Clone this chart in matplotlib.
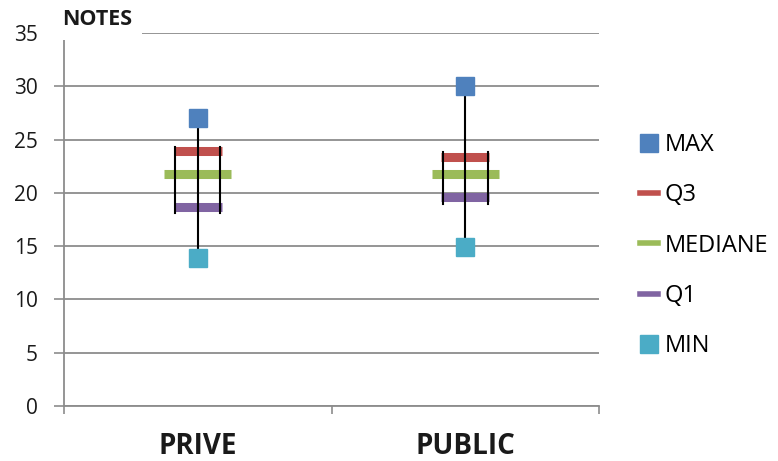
import matplotlib
matplotlib.use("Agg")
import matplotlib.pyplot as plt
from matplotlib.lines import Line2D

# donnees
categories = ["PRIVE", "PUBLIC"]
val_max = [27, 30]
val_q3 = [23.9, 23.4]
val_mediane = [21.8, 21.8]
val_q1 = [18.7, 19.6]
val_min = [13.9, 14.9]
yticks = [0, 5, 10, 15, 20, 25, 30, 35]

c_max = "#4F81BD"
c_q3 = "#C0504D"
c_med = "#9BBB59"
c_q1 = "#8064A2"
c_min = "#4BACC6"
grille = "#8C8C8C"

plt.rcParams['font.family'] = ['Open Sans', 'DejaVu Sans']

fig = plt.figure(figsize=(7.78, 4.61), dpi=100)
ax = fig.add_axes([64/778, 55/461, 535/778, 373/461])

for i, cat in enumerate(categories):
    # barres Q3 / mediane / Q1
    ax.plot([i - 0.09, i + 0.09], [val_q3[i], val_q3[i]], color=c_q3, lw=6.5, solid_capstyle='butt', zorder=3)
    ax.plot([i - 0.125, i + 0.125], [val_mediane[i], val_mediane[i]], color=c_med, lw=6.5, solid_capstyle='butt', zorder=3)
    ax.plot([i - 0.09, i + 0.09], [val_q1[i], val_q1[i]], color=c_q1, lw=6.5, solid_capstyle='butt', zorder=3)
    # moustache et cotes de la boite
    ax.plot([i, i], [val_min[i], val_max[i]], color="black", lw=1.5, zorder=4)
    for dx in (-0.085, 0.085):
        ax.plot([i + dx, i + dx], [val_q1[i] - 0.6, val_q3[i] + 0.4], color="black", lw=1.5, zorder=4)
    ax.plot(i, val_max[i], marker='s', ms=13, color=c_max, zorder=5)
    ax.plot(i, val_min[i], marker='s', ms=13, color=c_min, zorder=5)

ax.set_xlim(-0.5, 1.5)
ax.set_ylim(0, 35)
ax.set_yticks(yticks)
ax.set_xticks(range(len(categories)))
ax.set_xticklabels(categories, fontsize=20, fontweight='bold')
ax.set_xticks([-0.5, 0.5, 1.5], minor=True)
ax.tick_params(axis='x', which='major', length=0, pad=19, colors='#1a1a1a')
ax.tick_params(axis='x', which='minor', length=6, width=1.2, color=grille)
ax.tick_params(axis='y', length=7, width=1.2, color=grille, labelsize=15, labelcolor='#1a1a1a', pad=12)

ax.grid(axis='y', color=grille, lw=1.3)
ax.set_axisbelow(True)
for s in ['top', 'right']:
    ax.spines[s].set_visible(False)
for s in ['left', 'bottom']:
    ax.spines[s].set_color(grille)
    ax.spines[s].set_linewidth(1.3)

ax.text(-0.003, 1.035, "NOTES", transform=ax.transAxes, fontsize=15.5, fontweight='bold',
        va='center', ha='left', color='#1a1a1a',
        bbox=dict(facecolor='white', edgecolor='none', pad=7))

handles = [
    Line2D([], [], marker='s', ms=13, color=c_max, lw=0),
    Line2D([], [], color=c_q3, lw=4),
    Line2D([], [], color=c_med, lw=4),
    Line2D([], [], color=c_q1, lw=4),
    Line2D([], [], marker='s', ms=13, color=c_min, lw=0),
]
ax.legend(handles, ["MAX", "Q3", "MEDIANE", "Q1", "MIN"], loc='center left',
          bbox_to_anchor=(1.077, 0.43), frameon=False, fontsize=17,
          labelspacing=1.11, handlelength=0.75, handletextpad=0.3,
          borderaxespad=0, borderpad=0)

fig.savefig("out.png", dpi=100)
